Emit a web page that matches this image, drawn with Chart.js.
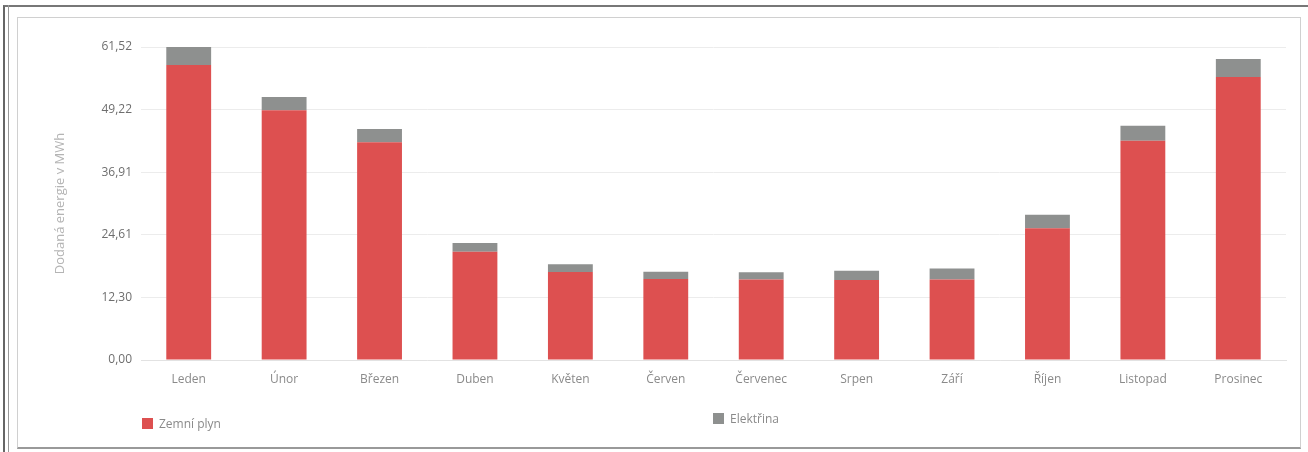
<!DOCTYPE html>
<html>
<head>
<meta charset="utf-8">
<script src="https://cdn.jsdelivr.net/npm/chart.js@4.4.1/dist/chart.umd.min.js"></script>
<style>
  html, body { margin: 0; padding: 0; background: #fff; }
  body { width: 1308px; height: 452px; position: relative; overflow: hidden; font-family: "Open Sans", sans-serif; }
  #wrap { position: absolute; left: 0; top: 0; width: 1308px; height: 452px; }
  .frame-outer { position: absolute; left: 3px; top: 5px; right: 0; bottom: 0; border-top: 2px solid #777; border-left: 2px solid #666; }
  .frame-line2 { position: absolute; left: 8px; top: 5px; bottom: 0; border-left: 1px solid #999; }
  .frame-inner { position: absolute; left: 17px; top: 17px; right: 7px; bottom: 3px; border: 1px solid #d0d0d0; border-bottom: 2px solid #999; }
  .legend-item { position: absolute; font-size: 12px; color: #8a8a8a; display: flex; align-items: center; }
  .legend-item span.box { width: 11px; height: 11px; margin-right: 6px; display: inline-block; }
</style>
</head>
<body>
<div class="frame-outer"></div>
<div class="frame-line2"></div>
<div class="frame-inner"></div>
<div id="wrap"><canvas id="energyChart" width="1308" height="452"></canvas></div>
<div class="legend-item" style="left:142px; top:415px;"><span class="box" style="background:#dd5050"></span>Zemní plyn</div>
<div class="legend-item" style="left:713px; top:410px;"><span class="box" style="background:#8e908f"></span>Elektřina</div>
<script>
// Data (MWh)
var months = ['Leden', 'Únor', 'Březen', 'Duben', 'Květen', 'Červen', 'Červenec', 'Srpen', 'Září', 'Říjen', 'Listopad', 'Prosinec'];
var zemniPlyn = [58.0, 49.1, 42.8, 21.3, 17.3, 15.9, 15.8, 15.7, 15.8, 25.9, 43.1, 55.6];
var elektrina = [3.52, 2.6, 2.6, 1.7, 1.5, 1.45, 1.45, 1.85, 2.2, 2.65, 2.95, 3.55];
var yTicks = [0, 12.304, 24.608, 36.912, 49.216, 61.52];

function czNum(v) {
    return v.toFixed(2).replace('.', ',');
}

var ctx = document.getElementById('energyChart').getContext('2d');
var chart = new Chart(ctx, {
    type: 'bar',
    data: {
        labels: months,
        datasets: [{
            label: 'Zemní plyn',
            data: zemniPlyn,
            backgroundColor: '#dd5050',
            barPercentage: 0.47,
            categoryPercentage: 1
        }, {
            label: 'Elektřina',
            data: elektrina,
            backgroundColor: '#8e908f',
            barPercentage: 0.47,
            categoryPercentage: 1
        }]
    },
    options: {
        responsive: false,
        animation: false,
        layout: {
            padding: { left: 17, right: 22, top: 47, bottom: 62 }
        },
        plugins: {
            legend: { display: false },
            tooltip: { enabled: false }
        },
        scales: {
            x: {
                stacked: true,
                grid: { display: false, drawTicks: false },
                border: { color: '#e2e2e2' },
                ticks: { color: '#8a8a8a', padding: 12, font: { family: 'Open Sans', size: 12 } },
                afterFit: function (s) { s.height = 30; }
            },
            y: {
                stacked: true,
                min: 0,
                max: 61.52,
                grid: { color: '#ececec', drawTicks: false },
                border: { display: false },
                afterBuildTicks: function (axis) {
                    axis.ticks = yTicks.map(function (v) { return { value: v }; });
                },
                ticks: {
                    color: '#6e6e6e',
                    padding: 9,
                    font: { family: 'Open Sans', size: 12 },
                    callback: function (v) { return czNum(v); }
                },
                title: {
                    display: true,
                    text: 'Dodaná energie v MWh',
                    color: '#b4b4b4',
                    font: { family: 'Open Sans', size: 13 },
                    padding: { top: 35, bottom: 0 }
                },
                afterFit: function (s) { s.width = 124; }
            }
        }
    }
});
</script>
</body>
</html>
